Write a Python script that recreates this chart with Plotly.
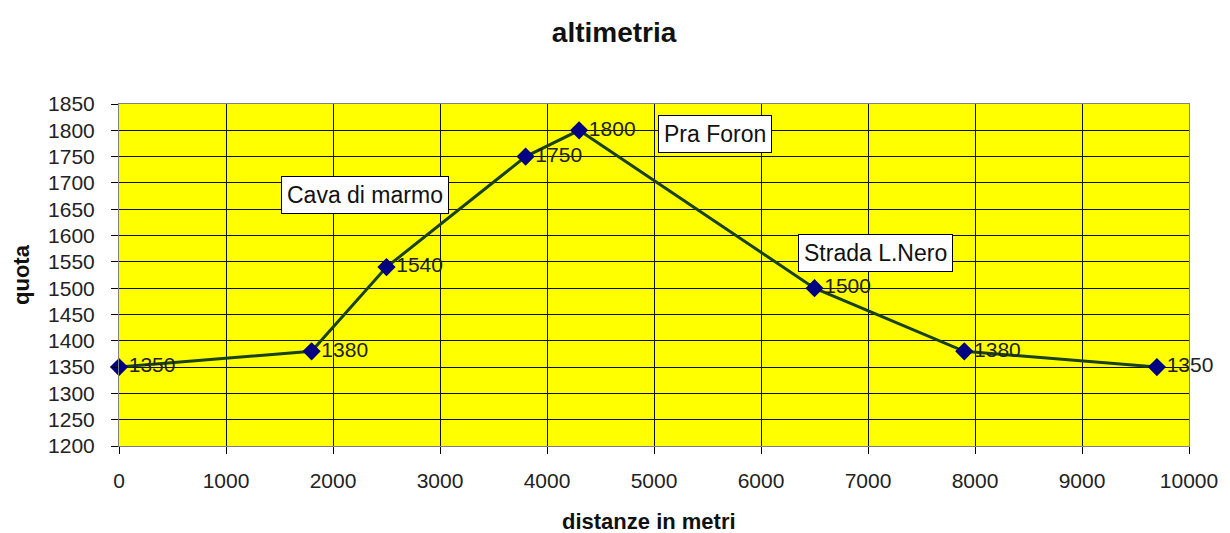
import plotly.graph_objects as go

distanze = [0, 1800, 2500, 3800, 4300, 6500, 7900, 9700]
quota = [1350, 1380, 1540, 1750, 1800, 1500, 1380, 1350]
etichette = ["1350", "1380", "1540", "1750", "1800", "1500", "1380", "1350"]

luoghi = ["Cava di marmo", "Pra Foron", "Strada L.Nero"]
luoghi_x = [2300, 5570, 7070]
luoghi_y = [1678, 1793, 1566]

FONT = "Liberation Sans, Arial, sans-serif"

fig = go.Figure()
fig.add_trace(go.Scatter(
    x=distanze, y=quota, mode="lines+markers+text",
    text=etichette, textposition="middle right",
    textfont=dict(family=FONT, size=21, color="#222222"),
    line=dict(color="#1a421a", width=3),
    marker=dict(symbol="diamond", size=14, color="#000080"),
    cliponaxis=False, showlegend=False,
))

for t, x, y in zip(luoghi, luoghi_x, luoghi_y):
    fig.add_annotation(x=x, y=y, text=t, showarrow=False,
                       font=dict(family=FONT, size=23, color="#111111"),
                       bgcolor="white", bordercolor="black", borderwidth=1, borderpad=5)

# axis titles
fig.add_annotation(xref="paper", yref="paper", x=0.495, y=0, yanchor="middle",
                   yshift=-75, showarrow=False, text="<b>distanze in metri</b>",
                   font=dict(family=FONT, size=22, color="#111111"))
fig.add_annotation(xref="paper", yref="paper", x=0, y=0.5, xanchor="center",
                   xshift=-98, showarrow=False, text="<b>quota</b>", textangle=-90,
                   font=dict(family=FONT, size=22, color="#111111"))

fig.update_layout(
    width=1222, height=525,
    margin=dict(l=111, r=34, t=96, b=87),
    paper_bgcolor="white", plot_bgcolor="#FFFF00",
    title=dict(text="<b>altimetria</b>", x=0.496, xanchor="center", y=1 - 24/525, yanchor="middle",
               font=dict(family=FONT, size=28, color="#111111")),
    font=dict(family=FONT, size=21, color="#222222"),
)
fig.update_xaxes(range=[0, 10000], dtick=1000, tickformat="d", showgrid=True,
                 gridcolor="#111111", gridwidth=1.3,
                 zeroline=False, ticks="outside", ticklen=7, tickcolor="black",
                 ticklabelstandoff=9,
                 showline=True, linecolor="#808080", mirror=True)
fig.update_yaxes(range=[1200, 1850], dtick=50, showgrid=True,
                 gridcolor="#111111", gridwidth=1.3,
                 zeroline=False, ticks="outside", ticklen=7, tickcolor="black",
                 ticklabelstandoff=12,
                 showline=True, linecolor="#808080", mirror=True)

fig.write_html("out.html")
